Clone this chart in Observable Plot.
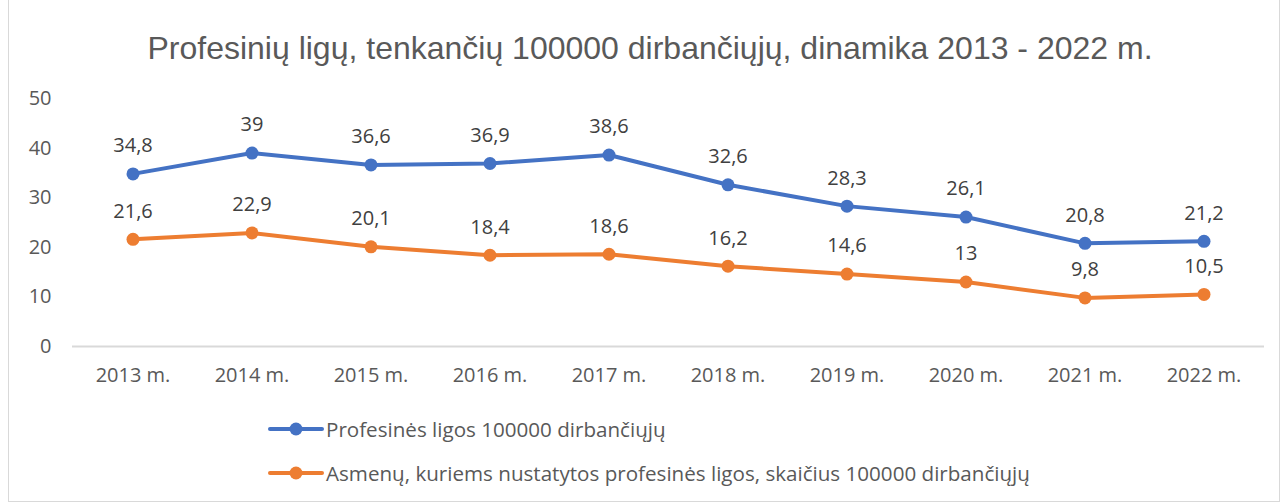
<!DOCTYPE html>
<html><head><meta charset="utf-8">
<script src="https://cdn.jsdelivr.net/npm/d3@7"></script>
<script src="https://cdn.jsdelivr.net/npm/@observablehq/plot@0.6"></script>
<style>
body{margin:0;background:#fff;font-family:"Open Sans",sans-serif;}
#wrap{position:relative;width:1283px;height:503px;overflow:hidden;}
#frame{position:absolute;left:8px;top:-2px;width:1270px;height:502px;border:1px solid #d9d9d9;}
#title{position:absolute;left:0;top:29px;width:1300px;text-align:center;font-family:"Liberation Sans",Arial,sans-serif;font-size:32px;line-height:38px;color:#595959;}
#chart{position:absolute;left:0;top:70px;}
.leg{position:absolute;left:268px;font-size:20.6px;color:#595959;display:flex;align-items:center;}
.leg svg{margin-right:2px;}
</style></head>
<body><div id="wrap"><div id="frame"></div>
<div id="title">Profesinių ligų, tenkančių 100000 dirbančiųjų, dinamika 2013 - 2022 m.</div>
<div id="chart"></div>
<div class="leg" id="l1" style="top:415px"></div>
<div class="leg" id="l2" style="top:459px"></div>
</div>
<script>
const years = ["2013 m.","2014 m.","2015 m.","2016 m.","2017 m.","2018 m.","2019 m.","2020 m.","2021 m.","2022 m."];
const ligos = [34.8,39,36.6,36.9,38.6,32.6,28.3,26.1,20.8,21.2];
const asmenys = [21.6,22.9,20.1,18.4,18.6,16.2,14.6,13,9.8,10.5];
const seriesNames = ["Profesinės ligos 100000 dirbančiųjų","Asmenų, kuriems nustatytos profesinės ligos, skaičius 100000 dirbančiųjų"];
const colors = ["#4472C4","#ED7D31"];
const yTicks = [0,10,20,30,40,50];

const data = [];
years.forEach((y,i)=>{data.push({year:y,value:ligos[i],s:seriesNames[0]});});
years.forEach((y,i)=>{data.push({year:y,value:asmenys[i],s:seriesNames[1]});});
const fmt = v => String(v).replace(".", ",");

const plot = Plot.plot({
  width:1283, height:326,
  marginLeft:72, marginRight:19, marginTop:28, marginBottom:50,
  style:{fontFamily:"'Open Sans', sans-serif", fontSize:"20px", color:"#595959", background:"transparent"},
  x:{type:"band", domain:years, padding:0, label:null},
  y:{domain:[0,50], label:null},
  color:{domain:seriesNames, range:colors},
  marks:[
    Plot.axisY({ticks:yTicks, tickSize:0, tickPadding:0, dx:-21, textAnchor:"end", fill:"#595959", fontSize:20, label:null}),
    Plot.axisX({tickSize:0, tickPadding:21, fill:"#595959", fontSize:20, label:null}),
    Plot.ruleY([0],{stroke:"#d9d9d9", strokeWidth:2}),
    Plot.line(data,{x:"year", y:"value", z:"s", stroke:"s", strokeWidth:4}),
    Plot.dot(data,{x:"year", y:"value", fill:"s", r:6.5}),
    Plot.text(data,{x:"year", y:"value", text:d=>fmt(d.value), dy:-28, fill:"#404040", fontSize:20})
  ]
});
document.getElementById("chart").appendChild(plot);

function legend(id, color, name){
  const el = document.getElementById(id);
  el.innerHTML = `<svg width="56" height="28"><line x1="2" y1="14" x2="54" y2="14" stroke="${color}" stroke-width="4" stroke-linecap="round"/><circle cx="28" cy="14" r="6.5" fill="${color}"/></svg><span>${name}</span>`;
}
legend("l1", colors[0], seriesNames[0]);
legend("l2", colors[1], seriesNames[1]);
</script>
</body></html>
